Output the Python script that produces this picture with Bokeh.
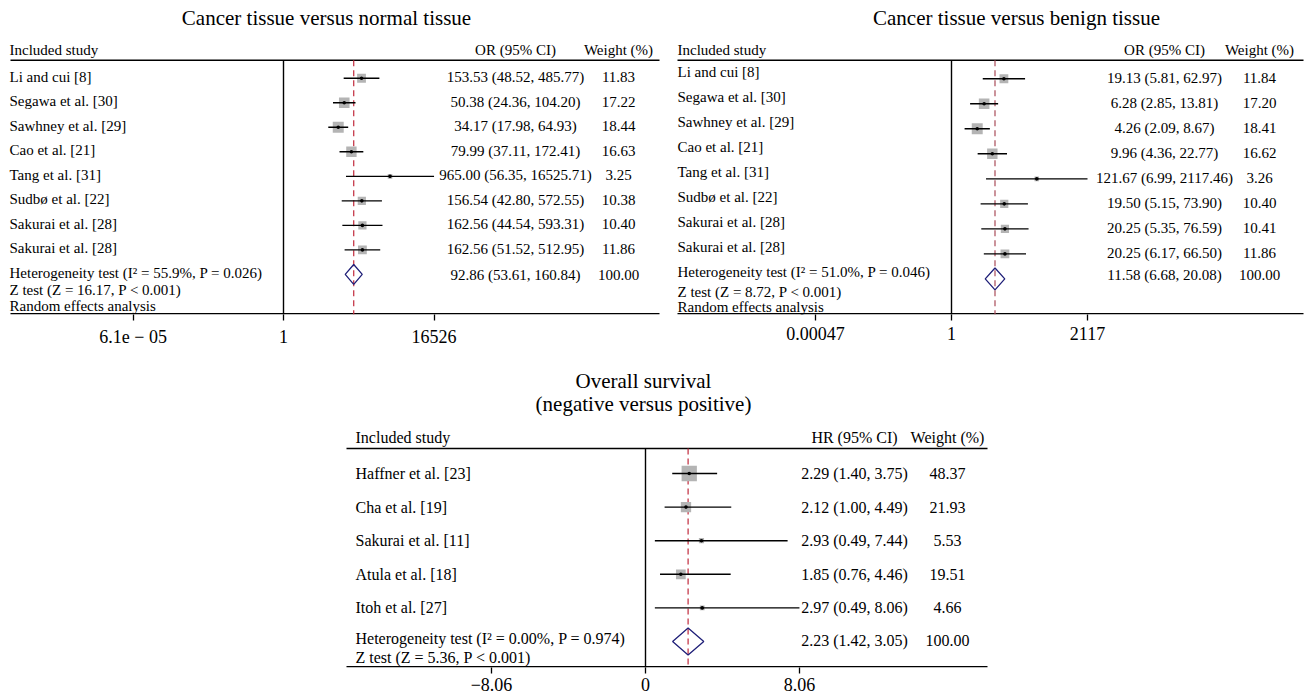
import numpy as np
from bokeh.plotting import figure
from bokeh.models import Range1d, FixedTicker, CustomJSTickFormatter
from bokeh.layouts import column, row
from bokeh.embed import file_html
from bokeh.resources import INLINE
from bokeh.core.properties import value

# ---------------- data ----------------
tissue_studies = ["Li and cui [8]", "Segawa et al. [30]", "Sawhney et al. [29]", "Cao et al. [21]",
                  "Tang et al. [31]", "Sudbø et al. [22]", "Sakurai et al. [28]", "Sakurai et al. [28]"]

normal_or = [153.53, 50.38, 34.17, 79.99, 965.00, 156.54, 162.56, 162.56]
normal_lo = [48.52, 24.36, 17.98, 37.11, 56.35, 42.80, 44.54, 51.52]
normal_hi = [485.77, 104.20, 64.93, 172.41, 16525.71, 572.55, 593.31, 512.95]
normal_weight = [11.83, 17.22, 18.44, 16.63, 3.25, 10.38, 10.40, 11.86]
normal_pooled = [92.86, 53.61, 160.84]
normal_stats = ["Heterogeneity test (I² = 55.9%, P = 0.026)", "Z test (Z = 16.17, P < 0.001)",
                "Random effects analysis"]
normal_ticks = [6.1e-05, 1, 16526]
normal_tick_labels = ["6.1e − 05", "1", "16526"]

benign_or = [19.13, 6.28, 4.26, 9.96, 121.67, 19.50, 20.25, 20.25]
benign_lo = [5.81, 2.85, 2.09, 4.36, 6.99, 5.15, 5.35, 6.17]
benign_hi = [62.97, 13.81, 8.67, 22.77, 2117.46, 73.90, 76.59, 66.50]
benign_weight = [11.84, 17.20, 18.41, 16.62, 3.26, 10.40, 10.41, 11.86]
benign_pooled = [11.58, 6.68, 20.08]
benign_stats = ["Heterogeneity test (I² = 51.0%, P = 0.046)", "Z test (Z = 8.72, P < 0.001)",
                "Random effects analysis"]
benign_ticks = [0.00047, 1, 2117]
benign_tick_labels = ["0.00047", "1", "2117"]

os_studies = ["Haffner et al. [23]", "Cha et al. [19]", "Sakurai et al. [11]", "Atula et al. [18]", "Itoh et al. [27]"]
os_hr = [2.29, 2.12, 2.93, 1.85, 2.97]
os_lo = [1.40, 1.00, 0.49, 0.76, 0.49]
os_hi = [3.75, 4.49, 7.44, 4.46, 8.06]
os_weight = [48.37, 21.93, 5.53, 19.51, 4.66]
os_pooled = [2.23, 1.42, 3.05]
os_stats = ["Heterogeneity test (I² = 0.00%, P = 0.974)", "Z test (Z = 5.36, P < 0.001)"]
os_ticks = [-8.06, 0, 8.06]
os_tick_labels = ["−8.06", "0", "8.06"]

titles = [["Cancer tissue versus normal tissue"], ["Cancer tissue versus benign tissue"],
          ["Overall survival", "(negative versus positive)"]]
header_left = "Included study"
effect_headers = ["OR (95% CI)", "OR (95% CI)", "HR (95% CI)"]
weight_header = "Weight (%)"

SERIF = "Liberation Serif"

TICK_JS = """
let k = 0, d = Infinity;
for (let i = 0; i < vals.length; i++) {
  const e = Math.abs(vals[i] - tick) / (Math.abs(vals[i]) + 1e-12);
  if (e < d) { d = e; k = i; }
}
return labs[k];
"""


def forest(c, studies, est, lo, hi, w, pooled, stats, ticks, tick_labels, title_lines, eff_header):
    fl, ft = c["left"], c["top"]
    fr = fl + c["width"]
    fb = ft + c["height"] - c["border"]
    log = c["log"]

    def tox(px):
        v = (px - c["zero"]) / c["ppu"]
        return float(np.exp(v)) if log else float(v)

    p = figure(width=c["width"], height=c["height"], x_axis_type="log" if log else "linear",
               x_range=Range1d(tox(fl), tox(fr)), y_range=Range1d(fb, ft),
               toolbar_location=None, output_backend="svg",
               min_border_left=0, min_border_right=0, min_border_top=0,
               min_border_bottom=c["border"], outline_line_color=None)
    p.yaxis.visible = False
    p.xgrid.visible = False
    p.ygrid.visible = False

    ax = p.xaxis[0]
    ax.ticker = FixedTicker(ticks=ticks)
    ax.formatter = CustomJSTickFormatter(args=dict(vals=ticks, labs=tick_labels), code=TICK_JS)
    ax.axis_line_color = None
    ax.major_tick_line_color = "black"
    ax.major_tick_line_width = 1.3
    ax.major_tick_out = 6
    ax.major_tick_in = 0
    ax.minor_tick_line_color = None
    ax.major_label_text_font = SERIF
    ax.major_label_text_font_size = c["tick_fs"]
    ax.major_label_text_color = "black"
    ax.major_label_standoff = c["standoff"]

    n = len(studies)
    ry = [float(c["row0"] + c["step"] * i) for i in range(n)]
    pooled_y = float(c["row0"] + c["step"] * n)
    null_v = 1.0 if log else 0.0

    xl, xr = tox(c["line_l"]), tox(c["line_r"])
    p.segment(x0=[xl, xl], x1=[xr, xr], y0=[c["hline"], fb - 0.8], y1=[c["hline"], fb - 0.8],
              line_color="black", line_width=1.6)
    p.segment(x0=[null_v], x1=[null_v], y0=[c["hline"]], y1=[fb], line_color="black", line_width=1.4)
    p.segment(x0=[pooled[0]], x1=[pooled[0]], y0=[c["hline"]], y1=[fb], line_color=c["red"],
              line_width=1.2, line_dash="6 4")

    sizes = [float(c["sq_k"] * np.sqrt(v)) for v in w]
    p.scatter(x=est, y=ry, size=sizes, marker="square", fill_color="#b4b4b4", line_color=None)
    p.segment(x0=lo, x1=hi, y0=ry, y1=ry, line_color="black", line_width=1.4)
    p.scatter(x=est, y=ry, size=3.6, marker="circle", fill_color="black", line_color=None)

    h = c["diamond_h"] / 2.0
    p.patch(x=[pooled[1], pooled[0], pooled[2], pooled[0]],
            y=[pooled_y, pooled_y - h, pooled_y, pooled_y + h],
            fill_alpha=0, line_color="#1f1f78", line_width=1.3)

    fnt = value(SERIF)
    fs = c["fs"]
    lx = tox(c["label_x"])
    ex = tox(c["est_x"])
    wx = tox(c["w_x"])
    p.text(x=[lx] * n, y=[v + c["label_dy"] for v in ry], text=studies,
           text_font=fnt, text_font_size=fs, text_align="left", text_baseline="middle", text_color="black")
    eff_txt = [f"{e:.2f} ({a:.2f}, {b:.2f})" for e, a, b in zip(est, lo, hi)]
    eff_txt.append(f"{pooled[0]:.2f} ({pooled[1]:.2f}, {pooled[2]:.2f})")
    w_txt = [f"{v:.2f}" for v in w] + ["100.00"]
    num_y = [v + c["num_dy"] for v in ry] + [c["pooled_num_y"]]
    p.text(x=[ex] * (n + 1), y=num_y, text=eff_txt,
           text_font=fnt, text_font_size=fs, text_align="center", text_baseline="middle", text_color="black")
    p.text(x=[wx] * (n + 1), y=num_y, text=w_txt,
           text_font=fnt, text_font_size=fs, text_align="center", text_baseline="middle", text_color="black")
    p.text(x=[lx] * len(stats), y=c["stat_ys"][:len(stats)], text=stats,
           text_font=fnt, text_font_size=fs, text_align="left", text_baseline="middle", text_color="black")
    p.text(x=[lx], y=[c["header_y"]], text=[header_left],
           text_font=fnt, text_font_size=fs, text_align="left", text_baseline="middle", text_color="black")
    p.text(x=[ex, wx], y=[c["header_y"]] * 2, text=[eff_header, weight_header],
           text_font=fnt, text_font_size=fs, text_align="center", text_baseline="middle", text_color="black")
    p.text(x=[tox(c["title_x"])] * len(title_lines), y=c["title_ys"], text=title_lines,
           text_font=fnt, text_font_size=c["title_fs"], text_align="center", text_baseline="middle",
           text_color="black")
    return p


cfg1 = dict(left=0, top=0, width=668, height=349, border=34, log=True, zero=283, ppu=15.5,
            label_x=9, line_l=10, line_r=659, est_x=515, w_x=618, title_x=326, title_ys=[18],
            header_y=50, hline=60, row0=78, step=24.6, label_dy=-1.5, num_dy=-1,
            stat_ys=[273, 290, 306], pooled_num_y=275, diamond_h=20, sq_k=2.55,
            fs="15px", title_fs="21px", tick_fs="18px", standoff=6, red="#c0283a")
cfg2 = dict(left=668, top=0, width=636, height=349, border=34, log=True, zero=951, ppu=17.76,
            label_x=677, line_l=677, line_r=1303, est_x=1164, w_x=1259, title_x=1016, title_ys=[18],
            header_y=50, hline=60, row0=78.5, step=25.1, label_dy=-6.5, num_dy=-1,
            stat_ys=[272, 292, 307], pooled_num_y=275, diamond_h=22, sq_k=2.55,
            fs="15px", title_fs="21px", tick_fs="18px", standoff=6, red="#a84a58")
cfg3 = dict(left=0, top=349, width=1304, height=349, border=31, log=False, zero=645, ppu=19.1,
            label_x=355, line_l=346, line_r=987, est_x=854, w_x=947, title_x=643, title_ys=[380, 403],
            header_y=437, hline=448, row0=473, step=33.6, label_dy=0, num_dy=0,
            stat_ys=[638, 657], pooled_num_y=640, diamond_h=27, sq_k=2.2,
            fs="16px", title_fs="21px", tick_fs="18px", standoff=4, red="#c0283a")

p1 = forest(cfg1, tissue_studies, normal_or, normal_lo, normal_hi, normal_weight, normal_pooled,
            normal_stats, normal_ticks, normal_tick_labels, titles[0], effect_headers[0])
p2 = forest(cfg2, tissue_studies, benign_or, benign_lo, benign_hi, benign_weight, benign_pooled,
            benign_stats, benign_ticks, benign_tick_labels, titles[1], effect_headers[1])
p3 = forest(cfg3, os_studies, os_hr, os_lo, os_hi, os_weight, os_pooled,
            os_stats, os_ticks, os_tick_labels, titles[2], effect_headers[2])

layout = column(row(p1, p2), p3)
open("out.html", "w").write(file_html(layout, INLINE))
